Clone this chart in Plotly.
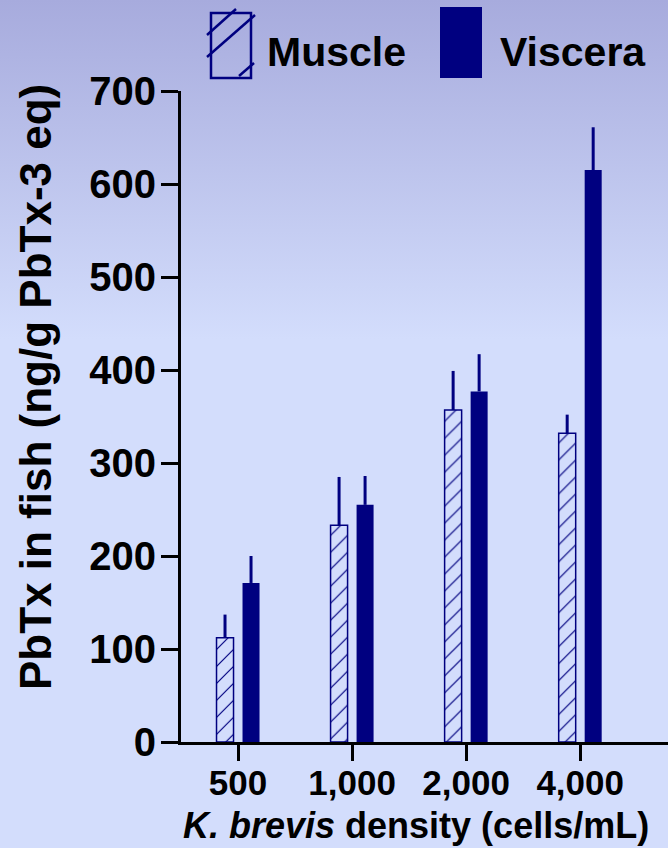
import base64
import plotly.graph_objects as go

# ---- data ----
densities = ["500", "1,000", "2,000", "4,000"]
muscle = [112, 233, 357, 332]
muscle_err = [25, 52, 42, 20]
viscera = [171, 255, 377, 615]
viscera_err = [29, 31, 40, 46]
y_ticks = [0, 100, 200, 300, 400, 500, 600, 700]

NAVY = "#000080"
FONT = "Arial, Liberation Sans, sans-serif"

W, H = 668, 848
L, R, T, B = 181, 0, 91, 106
PW, PH = W - L - R, H - T - B


def px(x):
    return (x - L) / PW


def py(y):
    return (H - B - y) / PH


fig = go.Figure()
fig.add_trace(go.Bar(
    name="Muscle", x=densities, y=muscle,
    marker=dict(color="rgba(0,0,0,0)", line=dict(color=NAVY, width=1.5),
                pattern=dict(shape="/", fgcolor=NAVY, bgcolor="rgba(0,0,0,0)",
                             fgopacity=1, size=12, solidity=0.1, fillmode="overlay")),
    error_y=dict(type="data", symmetric=False, array=muscle_err,
                 arrayminus=[0] * len(muscle_err), color=NAVY, thickness=3, width=0),
))
fig.add_trace(go.Bar(
    name="Viscera", x=densities, y=viscera,
    marker=dict(color=NAVY, line=dict(color=NAVY, width=0)),
    error_y=dict(type="data", symmetric=False, array=viscera_err,
                 arrayminus=[0] * len(viscera_err), color=NAVY, thickness=3, width=0),
))

# background gradient
svg = ('<svg xmlns="http://www.w3.org/2000/svg" width="668" height="848" preserveAspectRatio="none">'
       '<defs><linearGradient id="g" x1="0" y1="0" x2="0" y2="1">'
       '<stop offset="0" stop-color="#A7ABDD"/>'
       '<stop offset="0.40" stop-color="#D3DDFC"/>'
       '<stop offset="1" stop-color="#D3DDFC"/>'
       '</linearGradient></defs><rect width="668" height="848" fill="url(#g)"/></svg>')
src = "data:image/svg+xml;base64," + base64.b64encode(svg.encode()).decode()

shapes = []
# legend: Muscle hatched box
shapes.append(dict(type="rect", xref="paper", yref="paper",
                   x0=px(211), x1=px(251), y0=py(78), y1=py(13),
                   line=dict(color=NAVY, width=2.5), fillcolor="rgba(0,0,0,0)"))
for (x0, y0, x1, y1) in [(207, 35, 236, 9), (207, 57, 255, 15), (239, 76, 254, 63)]:
    shapes.append(dict(type="line", xref="paper", yref="paper",
                       x0=px(x0), y0=py(y0), x1=px(x1), y1=py(y1),
                       line=dict(color=NAVY, width=2.5)))
# legend: Viscera filled box
shapes.append(dict(type="rect", xref="paper", yref="paper",
                   x0=px(440), x1=px(482), y0=py(78), y1=py(7),
                   line=dict(color=NAVY, width=0), fillcolor=NAVY))

annotations = [
    dict(text="<b>Muscle</b>", xref="paper", yref="paper", x=px(265), y=py(52),
         xanchor="left", yanchor="middle", showarrow=False,
         font=dict(family=FONT, size=41, color="black")),
    dict(text="<b>Viscera</b>", xref="paper", yref="paper", x=px(498), y=py(52),
         xanchor="left", yanchor="middle", showarrow=False,
         font=dict(family=FONT, size=41, color="black")),
    dict(text="<b><i>K. brevis</i> density (cells/mL)</b>", xref="paper", yref="paper",
         x=px(416), y=py(826), xanchor="center", yanchor="middle", showarrow=False,
         font=dict(family=FONT, size=36, color="black")),
    dict(text="<b>PbTx in fish (ng/g PbTx-3 eq)</b>", xref="paper", yref="paper",
         x=px(35), y=py(387), xanchor="center", yanchor="middle", showarrow=False,
         textangle=-90, font=dict(family=FONT, size=44, color="black")),
]

fig.update_layout(
    width=W, height=H,
    margin=dict(l=L, r=R, t=T, b=B, pad=0),
    paper_bgcolor="#D3DDFC", plot_bgcolor="rgba(0,0,0,0)",
    barmode="group", bargap=0.544, bargroupgap=0.346,
    showlegend=False,
    images=[dict(source=src, xref="paper", yref="paper", x=px(0), y=py(0),
                 sizex=W / PW, sizey=H / PH, sizing="stretch",
                 xanchor="left", yanchor="top", layer="below")],
    shapes=shapes, annotations=annotations,
    font=dict(family=FONT, color="black"),
)
fig.update_xaxes(
    type="category", categoryorder="array", categoryarray=densities,
    range=[-0.5, 3.77], showline=True, linecolor="black", linewidth=3,
    ticks="outside", ticklen=16, tickwidth=3, tickcolor="black",
    showgrid=False, zeroline=False, ticklabelstandoff=-8,
    tickfont=dict(family=FONT, size=35, color="black", weight="bold"),
)
fig.update_yaxes(
    range=[0, 700], tickvals=y_ticks, showline=True, linecolor="black", linewidth=3,
    ticks="outside", ticklen=17, tickwidth=3, tickcolor="black",
    showgrid=False, zeroline=False, ticklabelstandoff=-3,
    tickfont=dict(family=FONT, size=40, color="black", weight="bold"),
)

fig.write_html("out.html", config={"displayModeBar": False},
               post_script="document.body.style.margin='0';document.body.style.overflow='hidden';")
